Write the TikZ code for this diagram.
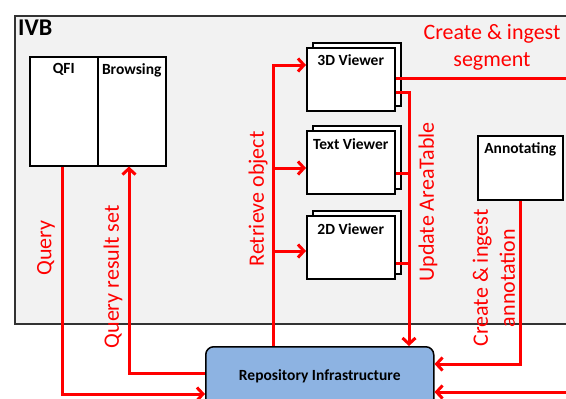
\documentclass[tikz,border=0pt]{standalone}
\usepackage{fontspec}
\setmainfont{Carlito}
\usetikzlibrary{arrows.meta,calc}
\definecolor{ivbgray}{HTML}{F2F2F2}
\definecolor{repoblue}{HTML}{8DB3E2}
\begin{document}
\begin{tikzpicture}[x=1pt,y=-1pt,
 box/.style={draw=black, line width=1.5pt, fill=white, inner sep=0pt, anchor=north west},
 lbl/.style={font=\fontsize{15.5}{18}\selectfont\bfseries, inner sep=0pt, anchor=north},
 flow/.style={draw=red, line width=3pt},
 arr/.style={flow, -{Straight Barb[length=6pt,width=13pt]}},
 rl/.style={text=red, font=\fontsize{22}{27}\selectfont, align=center, inner sep=0pt}]
\clip (0,0) rectangle (566,399);
% IVB container
\node[draw=black!80, line width=1.5pt, fill=ivbgray, inner sep=0pt, anchor=north west,
      minimum width=580pt, minimum height=308pt] (ivb) at (14,15) {};
\node[font=\fontsize{24}{28}\selectfont\bfseries, anchor=north west, inner sep=0pt] (ivbl) at (18,20) {IVB};
% QFI / Browsing
\node[box, minimum width=68pt, minimum height=109pt] (qfi) at (29,56) {};
\node[box, minimum width=68pt, minimum height=109pt] (browse) at (97,56) {};
\node[lbl] (qfil) at ($(qfi.north)+(0,7)$) {QFI};
\node[lbl] (browsel) at ($(browse.north)+(0,7)$) {Browsing};
% Viewers
\node[box, minimum width=88pt, minimum height=63pt] (v3db) at (312,42) {};
\node[box, minimum width=88pt, minimum height=63pt] (v3d) at (306,47) {};
\node[lbl] (v3dl) at ($(v3d.north)+(0,7)$) {3D Viewer};
\node[box, minimum width=88pt, minimum height=63pt] (vtxtb) at (312,125) {};
\node[box, minimum width=88pt, minimum height=63pt] (vtxt) at (306,130) {};
\node[lbl] (vtxtl) at ($(vtxt.north)+(0,8)$) {Text Viewer};
\node[box, minimum width=88pt, minimum height=63pt] (v2db) at (312,210) {};
\node[box, minimum width=88pt, minimum height=63pt] (v2d) at (306,215) {};
\node[lbl] (v2dl) at ($(v2d.north)+(0,8)$) {2D Viewer};
% Annotating
\node[box, minimum width=85pt, minimum height=64pt] (ann) at (477,135) {};
\node[lbl] (annl) at ($(ann.north)+(0,7)$) {Annotating};
% Repository
\node[draw=black, line width=1.5pt, fill=repoblue, rounded corners=8pt, inner sep=0pt,
      anchor=north west, minimum width=228pt, minimum height=60pt,
      font=\fontsize{15.5}{18}\selectfont\bfseries] (repo) at (205,346) {Repository Infrastructure};
% Connectors
\draw[arr] (qfi.south -| 62,0) |- (repo.west |- 0,394);
\draw[arr] (repo.west |- 0,373) -| (browse.south -| 129,0);
\draw[arr] (repo.north -| 273,0) |- (v3d.west |- 0,65);
\draw[arr] (273,168) -- (vtxt.west |- 0,168);
\draw[arr] (273,251) -- (v2d.west |- 0,251);
\draw[flow] (v3d.east |- 0,78) -- (575,78);
\draw[arr] (v3d.east |- 0,92) -| (repo.north -| 409,0);
\draw[flow] (vtxt.east |- 0,173) -- (409,173);
\draw[flow] (v2d.east |- 0,263) -- (409,263);
\draw[arr] (ann.south -| 520,0) |- (repo.east |- 0,364);
\draw[arr] (575,392) -- (repo.east |- 0,392);
% Labels
\node[rl, rotate=90] (lq) at (46,248) {Query};
\node[rl, rotate=90] (lqr) at (113,277) {Query result set};
\node[rl, rotate=90] (lro) at (258,199) {Retrieve object};
\node[rl, rotate=90] (lua) at (428,202) {Update AreaTable};
\node[rl, rotate=90] (lca) at (494,278) {Create \& ingest\\annotation};
\node[rl] (lcs) at (492,47) {Create \& ingest\\segment};
\end{tikzpicture}
\end{document}
